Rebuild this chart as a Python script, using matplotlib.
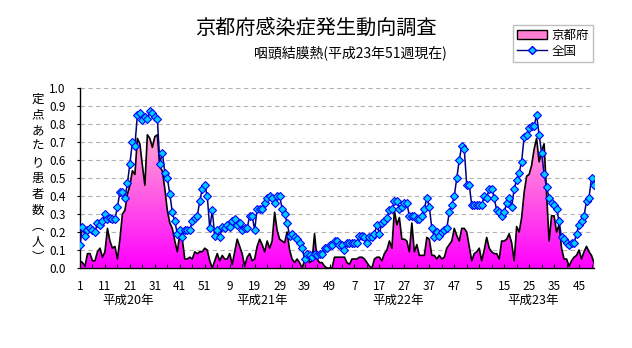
import numpy as np
import matplotlib
matplotlib.use('Agg')
import matplotlib.pyplot as plt
from matplotlib.colors import LinearSegmentedColormap
from matplotlib.patches import Patch
from matplotlib.lines import Line2D

plt.rcParams['font.family'] = ['Noto Sans CJK JP', 'DejaVu Sans']

# 定点あたり患者数（京都府）平成20年第1週〜平成23年第51週
kyoto = [
    0.04, 0.03, 0.01, 0.08, 0.08, 0.04, 0.04, 0.09, 0.11, 0.06,
    0.09, 0.22, 0.15, 0.11, 0.12, 0.05, 0.16, 0.30, 0.32, 0.41,
    0.46, 0.54, 0.52, 0.72, 0.69, 0.57, 0.46, 0.74, 0.72, 0.67,
    0.73, 0.74, 0.56, 0.54, 0.44, 0.32, 0.25, 0.22, 0.15, 0.09,
    0.19, 0.16, 0.05, 0.05, 0.06, 0.05, 0.09, 0.08, 0.09, 0.09,
    0.11, 0.10, 0.04, 0.00, 0.04, 0.08, 0.04, 0.07, 0.05, 0.05,
    0.08, 0.02, 0.09, 0.16, 0.12, 0.08, 0.01, 0.06, 0.08, 0.04,
    0.05, 0.12, 0.16, 0.13, 0.09, 0.15, 0.11, 0.15, 0.31, 0.21,
    0.16, 0.15, 0.14, 0.20, 0.10, 0.05, 0.03, 0.05, 0.03, 0.00,
    0.04, 0.09, 0.03, 0.04, 0.19, 0.05, 0.03, 0.03, 0.01, 0.00,
    0.00, 0.00, 0.06, 0.06, 0.06, 0.06, 0.06, 0.03, 0.02, 0.05,
    0.05, 0.05, 0.06, 0.06, 0.05, 0.03, 0.01, 0.00, 0.05, 0.06,
    0.06, 0.04, 0.08, 0.10, 0.15, 0.11, 0.32, 0.24, 0.28, 0.16,
    0.16, 0.15, 0.09, 0.25, 0.09, 0.13, 0.07, 0.07, 0.07, 0.17,
    0.16, 0.07, 0.07, 0.05, 0.07, 0.05, 0.06, 0.11, 0.13, 0.15,
    0.22, 0.18, 0.15, 0.22, 0.22, 0.20, 0.12, 0.04, 0.08, 0.09,
    0.11, 0.04, 0.10, 0.17, 0.11, 0.09, 0.08, 0.08, 0.05, 0.15,
    0.15, 0.16, 0.19, 0.14, 0.04, 0.23, 0.20, 0.28, 0.42, 0.51,
    0.52, 0.57, 0.66, 0.72, 0.59, 0.65, 0.69, 0.41, 0.15, 0.29,
    0.29, 0.20, 0.24, 0.11, 0.05, 0.05, 0.01, 0.04, 0.06, 0.07,
    0.10, 0.05, 0.09, 0.12, 0.09, 0.07, 0.03,
]

# 全国
zenkoku = [
    0.13, 0.23, 0.18, 0.21, 0.22, 0.21, 0.20, 0.25, 0.24, 0.26,
    0.30, 0.27, 0.28, 0.27, 0.27, 0.34, 0.42, 0.42, 0.39, 0.47,
    0.58, 0.70, 0.68, 0.85, 0.86, 0.82, 0.84, 0.83, 0.87, 0.86,
    0.84, 0.83, 0.58, 0.64, 0.53, 0.50, 0.41, 0.31, 0.26, 0.19,
    0.21, 0.17, 0.21, 0.21, 0.21, 0.26, 0.28, 0.29, 0.37, 0.44,
    0.46, 0.40, 0.22, 0.32, 0.18, 0.21, 0.17, 0.23, 0.22, 0.24,
    0.23, 0.26, 0.27, 0.24, 0.25, 0.21, 0.22, 0.22, 0.29, 0.29,
    0.21, 0.33, 0.33, 0.33, 0.36, 0.39, 0.40, 0.39, 0.36, 0.40,
    0.40, 0.33, 0.30, 0.25, 0.18, 0.19, 0.17, 0.16, 0.14, 0.11,
    0.05, 0.08, 0.07, 0.06, 0.08, 0.07, 0.08, 0.08, 0.11, 0.11,
    0.13, 0.13, 0.15, 0.15, 0.13, 0.13, 0.10, 0.14, 0.14, 0.14,
    0.14, 0.14, 0.18, 0.18, 0.17, 0.14, 0.17, 0.17, 0.19, 0.24,
    0.19, 0.25, 0.26, 0.28, 0.32, 0.33, 0.37, 0.37, 0.33, 0.34,
    0.36, 0.36, 0.29, 0.29, 0.29, 0.27, 0.27, 0.29, 0.33, 0.39,
    0.34, 0.22, 0.17, 0.20, 0.18, 0.20, 0.21, 0.22, 0.31, 0.35,
    0.40, 0.50, 0.60, 0.68, 0.66, 0.46, 0.46, 0.35, 0.35, 0.35,
    0.35, 0.35, 0.40, 0.39, 0.44, 0.44, 0.39, 0.32, 0.31, 0.29,
    0.31, 0.36, 0.39, 0.34, 0.44, 0.49, 0.53, 0.59, 0.73, 0.74,
    0.78, 0.79, 0.79, 0.85, 0.74, 0.64, 0.52, 0.45, 0.39, 0.36,
    0.35, 0.33, 0.26, 0.17, 0.16, 0.14, 0.13, 0.14, 0.14, 0.19,
    0.24, 0.26, 0.29, 0.37, 0.39, 0.50, 0.46,
]

week_labels = ['1', '11', '21', '31', '41', '51', '9', '19', '29', '39', '49',
               '7', '17', '27', '37', '47', '5', '15', '25', '35', '45']
year_labels = ['平成20年', '平成21年', '平成22年', '平成23年']
year_pos = [19.3, 73, 127.3, 181.5]

x = np.arange(len(kyoto))

fig = plt.figure(figsize=(6.32, 3.48), dpi=100)
ax = fig.add_axes([80 / 632, 80 / 348, 514 / 632, 180 / 348])

# 京都府: グラデーション塗りの面
cmap = LinearSegmentedColormap.from_list('pink', ['#ff00ff', '#ff55e6', '#ffa6d6'])
fill = ax.fill_between(x, kyoto, 0, facecolor='none', edgecolor='none')
grad = np.linspace(0, 1, 256).reshape(-1, 1)
im = ax.imshow(grad, extent=[0, x[-1], 0, max(kyoto)], origin='lower',
               aspect='auto', cmap=cmap, zorder=1)
im.set_clip_path(fill.get_paths()[0], transform=ax.transData)
ax.plot(x, kyoto, color='black', lw=1.2, zorder=2)

# 全国
ax.plot(x, zenkoku, color='#000080', lw=1.1, marker='D', ms=4.2,
        mfc='#00ccff', mec='#0000ff', mew=0.8, zorder=3)

ax.set_xlim(0, x[-1])
ax.set_ylim(0, 1.0)

# 目盛
ax.set_yticks(np.arange(0, 1.01, 0.1))
ax.set_yticklabels(['%.1f' % v for v in np.arange(0, 1.01, 0.1)], fontsize=8.5)
ax.set_xticks(np.arange(0, len(x), 10))
ax.set_xticklabels(week_labels, fontsize=8.5)
ax.set_xticks(np.arange(5, len(x), 10), minor=True)
ax.tick_params(axis='y', direction='out', length=2.5, pad=8)
ax.tick_params(axis='x', which='both', direction='in', length=3, pad=9)

for v in np.arange(0.1, 1.01, 0.1):
    ax.axhline(v, color='#b4b4b4', lw=0.8, ls=(0, (4, 3)), zorder=0)

ax.spines['top'].set_visible(False)
ax.spines['right'].set_visible(False)
ax.spines['left'].set_linewidth(1)
ax.spines['bottom'].set_linewidth(1)

# 年ラベル
for pos, lab in zip(year_pos, year_labels):
    ax.text(pos, -0.178, lab, transform=ax.get_xaxis_transform(),
            ha='center', va='center', fontsize=9)

# 縦書きの軸ラベル
ylab = list('定点あたり患者数') + ['︵', '人', '︶']
for k, ch in enumerate(ylab):
    fig.text(38 / 632, 1 - (99 + k * 15.9) / 348, ch, ha='center', va='center', fontsize=9)

# タイトル
fig.text(316 / 632, 1 - 28 / 348, '京都府感染症発生動向調査', ha='center', va='center', fontsize=14.5)
fig.text(350 / 632, 1 - 53 / 348, '咽頭結膜熱(平成23年51週現在)', ha='center', va='center', fontsize=10)

# 凡例
handles = [Patch(facecolor='#ff80d0', edgecolor='black', lw=1, label='京都府'),
           Line2D([], [], color='#000080', lw=1, marker='D', ms=4, mfc='#00ccff',
                  mec='#0000ff', label='全国')]
leg = fig.legend(handles=handles, loc='upper left', bbox_to_anchor=(513 / 632, 1 - 25 / 348),
                 frameon=True, fancybox=False, edgecolor='#b0b0b0', fontsize=9,
                 handlelength=2.4, handleheight=0.8, borderpad=0.3, labelspacing=0.25,
                 handletextpad=0.4, borderaxespad=0)
leg.get_frame().set_linewidth(1)

fig.savefig('out.png', dpi=100)
